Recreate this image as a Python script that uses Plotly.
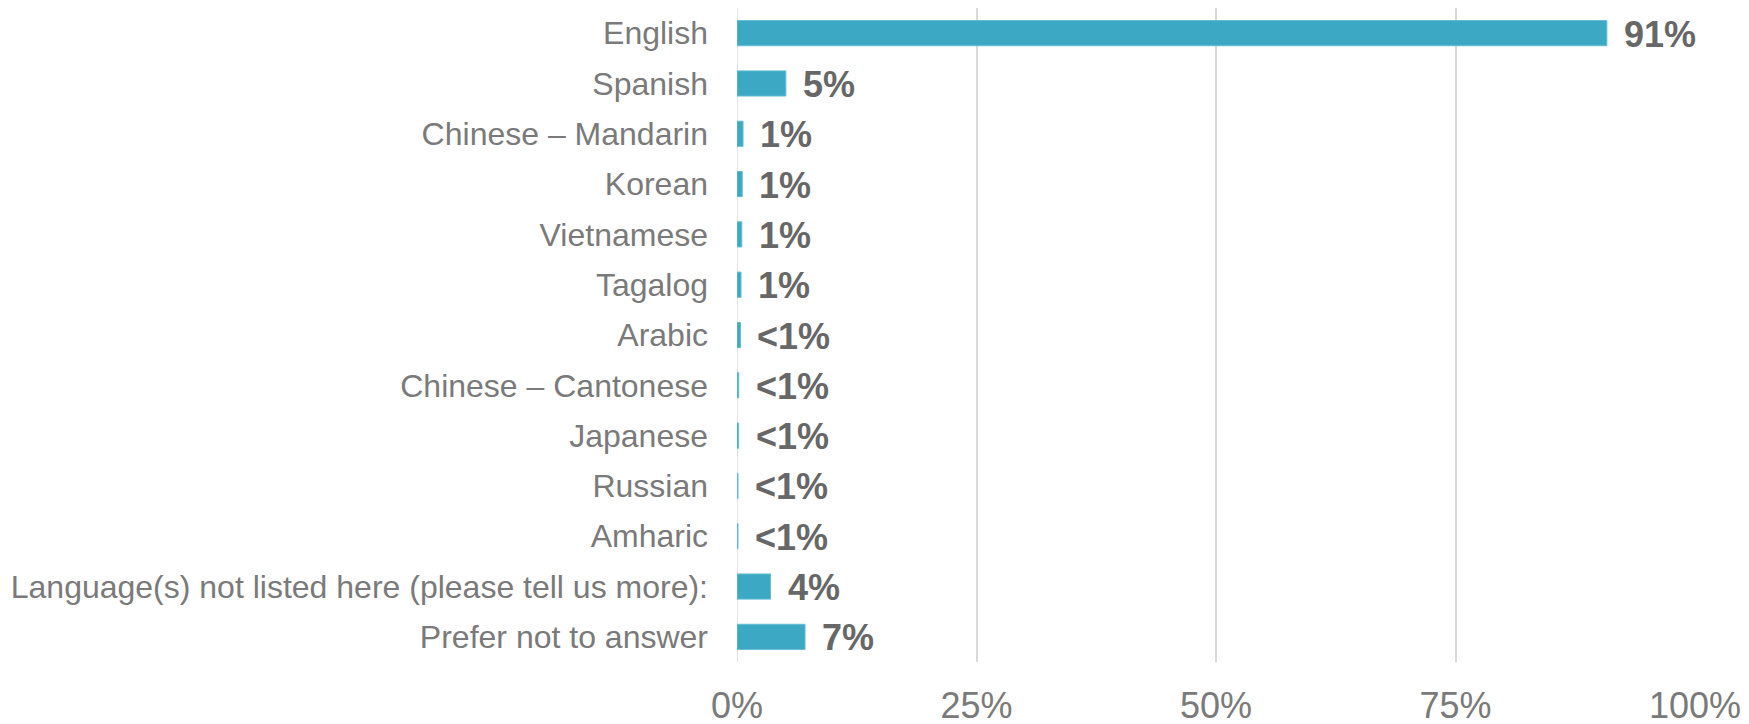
import plotly.graph_objects as go

categories = [
    "English", "Spanish", "Chinese – Mandarin", "Korean", "Vietnamese", "Tagalog",
    "Arabic", "Chinese – Cantonese", "Japanese", "Russian", "Amharic",
    "Language(s) not listed here (please tell us more):", "Prefer not to answer",
]
values = [90.8, 5.1, 0.63, 0.55, 0.5, 0.42, 0.36, 0.18, 0.17, 0.1, 0.1, 3.5, 7.1]
value_labels = ["91%", "5%", "1%", "1%", "1%", "1%", "<1%", "<1%", "<1%", "<1%", "<1%", "4%", "7%"]
x_ticks = [0, 25, 50, 75, 100]
x_tick_labels = ["0%", "25%", "50%", "75%", "100%"]

BAR = "#3ca8c4"
TXT = "#7a7a7a"
LBL = "#676767"
FONT = "Liberation Sans, Arial, sans-serif"

fig = go.Figure()
fig.add_trace(go.Bar(
    x=values, y=categories, orientation="h",
    marker=dict(color=BAR, line=dict(color="#62bdd4", width=1)),
    width=0.5, hoverinfo="skip",
))

for v, c, t in zip(values, categories, value_labels):
    fig.add_annotation(
        x=v, y=c, text=f"<b>{t}</b>", showarrow=False,
        xanchor="left", yanchor="middle", xshift=15, yshift=-1,
        font=dict(family=FONT, size=36, color=LBL),
    )

# page body has an 8px margin; compensate so plot area lands where the reference has it
fig.update_layout(
    width=1741, height=724,
    margin=dict(l=729, r=54, t=0, b=70),
    paper_bgcolor="white", plot_bgcolor="white",
    showlegend=False,
)
fig.update_xaxes(
    range=[0, 100], tickvals=x_ticks, ticktext=x_tick_labels,
    showgrid=True, gridcolor="#d9d9d9", gridwidth=1.5,
    zeroline=False, showline=False,
    tickfont=dict(family=FONT, size=36, color=TXT),
    ticks="", ticklabelstandoff=19, automargin=False, fixedrange=True,
)
fig.update_yaxes(
    autorange="reversed", showgrid=False, zeroline=False, showline=False,
    tickfont=dict(family=FONT, size=32, color=TXT),
    ticks="", ticklabelstandoff=28, automargin=False, fixedrange=True,
)
fig.add_shape(type="line", xref="x", yref="paper", x0=0, x1=0, y0=0, y1=1,
              line=dict(color="#d9d9d9", width=1.5), layer="below")

fig.write_html("out.html")
